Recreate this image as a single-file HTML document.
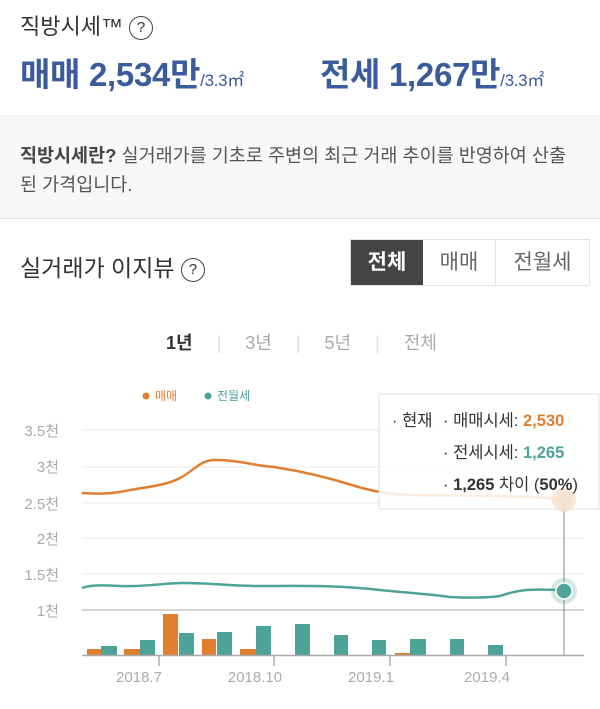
<!DOCTYPE html>
<html><head><meta charset="utf-8"><style>
*{margin:0;padding:0;box-sizing:border-box}
body{width:600px;height:709px;overflow:hidden;background:#fff;font-family:"Liberation Sans","Noto Sans CJK KR",sans-serif;position:relative;color:#333}
.a{position:absolute;white-space:nowrap}
.q{display:inline-block;width:24px;height:24px;border:1.5px solid #444;border-radius:50%;font-size:15px;text-align:center;line-height:21px;vertical-align:middle}
.big{font-size:33px;font-weight:bold;color:#3b5c9c;letter-spacing:-0.3px}
.big small{font-size:17px;font-weight:normal}
</style></head><body>
<div class="a" style="left:20px;top:9px;font-size:22px;color:#333">직방시세™ <span class="q">?</span></div>
<div class="a big" style="left:20px;top:48px">매매 2,534만<small>/3.3㎡</small></div>
<div class="a big" style="left:320px;top:48px">전세 1,267만<small>/3.3㎡</small></div>
<div class="a" style="left:0;top:115px;width:600px;height:104px;background:#f7f7f7;border-top:1px solid #eee;border-bottom:1px solid #e4e4e4"></div>
<div class="a" style="left:20px;top:141px;font-size:18.5px;line-height:29px;color:#555"><b style="color:#444">직방시세란?</b> 실거래가를 기초로 주변의 최근 거래 추이를 반영하여 산출<br>된 가격입니다.</div>
<div class="a" style="left:20px;top:249px;font-size:23px;color:#333">실거래가 이지뷰 <span class="q">?</span></div>
<div class="a" style="left:350px;top:239px;width:240px;height:47px;border:1px solid #e2e2e2;display:flex;font-size:21px">
<div style="width:72px;background:#444;color:#fff;font-weight:bold;text-align:center;line-height:45px">전체</div>
<div style="width:73px;color:#666;text-align:center;line-height:45px;border-right:1px solid #e2e2e2">매매</div>
<div style="flex:1;color:#666;text-align:center;line-height:45px">전월세</div></div>
<div class="a" style="left:166px;top:329px;font-size:18px;color:#aaa">
<b style="color:#333">1년</b><span style="color:#ddd;margin:0 24px">|</span>3년<span style="color:#ddd;margin:0 24px">|</span>5년<span style="color:#ddd;margin:0 24px">|</span>전체</div>
<svg class="a" style="left:0;top:380px" width="600" height="329" viewBox="0 380 600 329" font-family="Liberation Sans, Noto Sans CJK KR, sans-serif">
<circle cx="146" cy="396" r="3.5" fill="#e07f30"/><text x="155" y="400" font-size="12" fill="#e07f30">매매</text>
<circle cx="208" cy="396" r="3.5" fill="#4ea398"/><text x="217" y="400" font-size="12" fill="#4ea398">전월세</text>
<g stroke="#e8e8e8" stroke-width="1"><line x1="82" y1="430" x2="584" y2="430"/><line x1="82" y1="467" x2="584" y2="467"/><line x1="82" y1="503" x2="584" y2="503"/><line x1="82" y1="538" x2="584" y2="538"/><line x1="82" y1="574" x2="584" y2="574"/></g>
<line x1="82" y1="610" x2="584" y2="610" stroke="#aaa"/>
<g font-size="15" fill="#aaa" text-anchor="end"><text x="59" y="436">3.5천</text><text x="59" y="472">3천</text><text x="59" y="509">2.5천</text><text x="59" y="544">2천</text><text x="59" y="580">1.5천</text><text x="59" y="616">1천</text></g>
<g fill="#e07f30"><rect x="87" y="649" width="14" height="6"/><rect x="124" y="649" width="16" height="6"/><rect x="163" y="614" width="15" height="41"/><rect x="202" y="639" width="14" height="16"/><rect x="240" y="649" width="16" height="6"/><rect x="395" y="653" width="15" height="2"/></g>
<g fill="#4ea398"><rect x="101" y="646" width="16" height="9"/><rect x="140" y="640" width="15" height="15"/><rect x="179" y="633" width="15" height="22"/><rect x="217" y="632" width="15" height="23"/><rect x="256" y="626" width="15" height="29"/><rect x="295" y="624" width="15" height="31"/><rect x="334" y="635" width="14" height="20"/><rect x="372" y="640" width="14" height="15"/><rect x="410" y="639" width="16" height="16"/><rect x="450" y="639" width="14" height="16"/><rect x="488" y="645" width="15" height="10"/></g>
<line x1="82" y1="655.5" x2="584" y2="655.5" stroke="#aaa" stroke-width="1.5"/>
<g stroke="#aaa" stroke-width="1.5"><line x1="159" y1="655" x2="159" y2="666"/><line x1="274" y1="655" x2="274" y2="666"/><line x1="390" y1="655" x2="390" y2="666"/><line x1="506" y1="655" x2="506" y2="666"/></g>
<g font-size="15" fill="#aaa" text-anchor="middle"><text x="139" y="682">2018.7</text><text x="255" y="682">2018.10</text><text x="371" y="682">2019.1</text><text x="487" y="682">2019.4</text></g>
<path d="M82 493 C100 494 110 494 125 491 C145 487 165 486 180 478 C195 470 200 460 215 460 C240 460 255 466 274 467 C300 471 330 478 355 486 C375 492 390 494 410 495 C460 496 540 495 564 500" fill="none" stroke="#e07f30" stroke-width="2.5"/>
<path d="M82 588 C90 585 100 585 120 586 C150 587 160 583 185 583 C210 583 230 586 260 586 C300 586 340 585 380 590 C420 594 430 594 450 597 C470 598 485 598 500 596 C520 589 530 589 564 590" fill="none" stroke="#4ea398" stroke-width="2.5"/>
<line x1="564" y1="500" x2="564" y2="655" stroke="#888" stroke-width="1"/>
<rect x="379" y="394" width="220" height="115" fill="#fff" fill-opacity="0.85" stroke="#ddd"/>
<circle cx="564" cy="500" r="12" fill="#f7dcc4" opacity="0.7"/><circle cx="564" cy="500" r="7" fill="#f5e1cf"/>
<circle cx="564" cy="591" r="13" fill="#4ea398" opacity="0.25"/><circle cx="564" cy="591" r="8" fill="#4ea398" stroke="#fff" stroke-width="1.5"/>
<g font-size="16.5" fill="#333"><text x="392" y="426">· 현재</text><text x="443" y="426">· 매매시세: <tspan fill="#e07f30" font-weight="bold">2,530</tspan></text>
<text x="443" y="458">· 전세시세: <tspan fill="#4ea398" font-weight="bold">1,265</tspan></text>
<text x="443" y="490">· <tspan font-weight="bold">1,265</tspan> 차이 (<tspan font-weight="bold">50%</tspan>)</text></g>
</svg>
</body></html>
